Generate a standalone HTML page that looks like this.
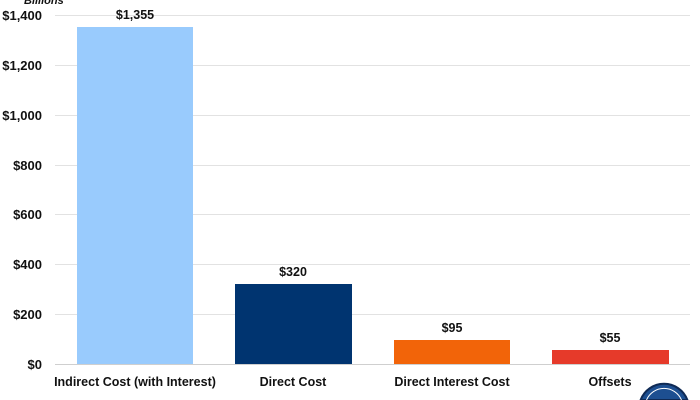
<!DOCTYPE html>
<html><head><style>
html,body{margin:0;padding:0;background:#fff;overflow:hidden;width:700px;height:400px;}
svg{display:block;}
svg text{font-family:"Liberation Sans",Arial,sans-serif;font-weight:bold;fill:#111;}
</style></head><body>
<svg width="700" height="400" viewBox="0 0 700 400" xmlns="http://www.w3.org/2000/svg">
<rect width="700" height="400" fill="#fff"/>
<text x="24" y="4" font-size="11" font-style="italic">Billions</text>
<g stroke="#e2e2e2" stroke-width="1">
<line x1="55" x2="690" y1="15.5" y2="15.5"/>
<line x1="55" x2="690" y1="65.5" y2="65.5"/>
<line x1="55" x2="690" y1="115.5" y2="115.5"/>
<line x1="55" x2="690" y1="165.5" y2="165.5"/>
<line x1="55" x2="690" y1="214.5" y2="214.5"/>
<line x1="55" x2="690" y1="264.5" y2="264.5"/>
<line x1="55" x2="690" y1="314.5" y2="314.5"/>
</g>
<line x1="55" x2="690" y1="364.5" y2="364.5" stroke="#cfcfcf"/>
<g font-size="13" text-anchor="end">
<text x="42" y="20">$1,400</text>
<text x="42" y="70">$1,200</text>
<text x="42" y="120">$1,000</text>
<text x="42" y="170">$800</text>
<text x="42" y="219">$600</text>
<text x="42" y="269">$400</text>
<text x="42" y="319">$200</text>
<text x="42" y="369">$0</text>
</g>
<rect x="77" y="27" width="116" height="337" fill="#99cbfd"/>
<rect x="235" y="284" width="117" height="80" fill="#003470"/>
<rect x="394" y="340" width="116" height="24" fill="#f26409"/>
<rect x="552" y="350" width="117" height="14" fill="#e63a2a"/>
<g font-size="12.5" text-anchor="middle">
<text x="135" y="19">$1,355</text>
<text x="293" y="276">$320</text>
<text x="452" y="332">$95</text>
<text x="610" y="342">$55</text>
<text x="135" y="386">Indirect Cost (with Interest)</text>
<text x="293" y="386">Direct Cost</text>
<text x="452" y="386">Direct Interest Cost</text>
<text x="610" y="386">Offsets</text>
</g>
<path d="M640.6 400 A25 25 0 0 1 687.4 400 Z" fill="#1d4f91" stroke="#0f2a55" stroke-width="2"/>
<path d="M646.5 400 A19 19 0 0 1 681.5 400" fill="none" stroke="#fff" stroke-width="1"/>
</svg>
</body></html>
